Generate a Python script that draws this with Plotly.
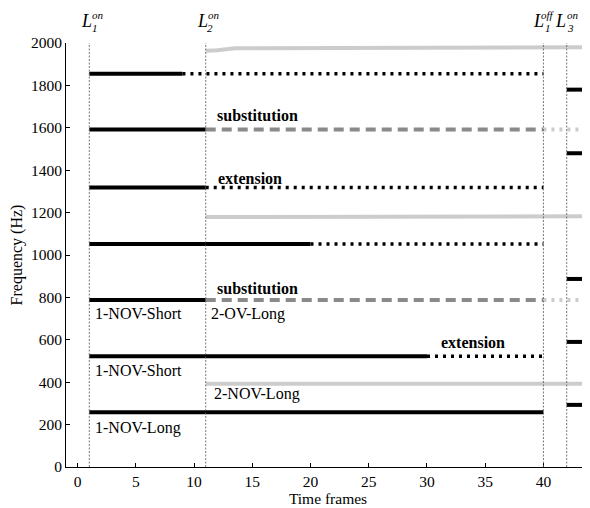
import plotly.graph_objects as go

# ---- data ----
onset_L1 = 1
onset_L2 = 11
offset_L1 = 40
onset_L3 = 42
frame_max = 44

# Layer 1 harmonics (Hz), frame where its solid part ends, and continuation type
l1_freqs = [258, 522, 788, 1052, 1318, 1592, 1855]
l1_solid_end = [40, 30, 11, 20, 11, 11, 9]
l1_cont = ["none", "ext", "sub", "ext", "ext", "sub", "ext"]

# Layer 2 non-overlapping harmonics (light grey)
l2_top_x = [11, 12, 13.5, 44]
l2_top_y = [1964, 1966, 1975, 1980]
l2_mid_x = [11, 25, 44]
l2_mid_y = [1179, 1182, 1183]
l2_low_x = [11, 44]
l2_low_y = [393, 393]

# Layer 3 harmonics (Hz)
l3_freqs = [293, 590, 887, 1480, 1780]

# Vertical markers
vline_frames = [onset_L1, onset_L2, offset_L1, onset_L3]

# Text labels
plain_labels = ["1-NOV-Short", "2-OV-Long", "1-NOV-Short", "2-NOV-Long", "1-NOV-Long"]
plain_x = [1.3, 11.3, 1.3, 11.5, 1.3]
plain_y = [722, 722, 453, 344, 184]
bold_labels = ["substitution", "extension", "substitution", "extension"]
bold_x = [11.8, 11.9, 11.8, 31.0]
bold_y = [1660, 1363, 844, 585]

x_ticks = [0, 5, 10, 15, 20, 25, 30, 35, 40]
y_ticks = [0, 200, 400, 600, 800, 1000, 1200, 1400, 1600, 1800, 2000]

# ---- styles ----
BLACK = "#000000"
MID = "#8a8a8a"
LIGHT = "#cccccc"
FONT = "Liberation Serif"

fig = go.Figure()


def seg(xs, ys, color, width=4, dash="solid"):
    fig.add_trace(go.Scatter(x=xs, y=ys, mode="lines", showlegend=False,
                             hoverinfo="skip",
                             line=dict(color=color, width=width, dash=dash)))


# layer 2 light grey lines
seg(l2_top_x, l2_top_y, LIGHT, 4)
seg(l2_mid_x, l2_mid_y, LIGHT, 4)
seg(l2_low_x, l2_low_y, LIGHT, 4)

# layer 1
for f, e, c in zip(l1_freqs, l1_solid_end, l1_cont):
    seg([onset_L1, e], [f, f], BLACK, 4)
    if c == "ext":
        seg([e, offset_L1], [f, f], BLACK, 3.5, "3px,5px")
    elif c == "sub":
        seg([e, offset_L1], [f, f], MID, 4, "10px,6px")
        seg([offset_L1, frame_max], [f, f], LIGHT, 4, "3px,5px")

# layer 3
for f in l3_freqs:
    seg([onset_L3, frame_max], [f, f], BLACK, 4)

shapes = []
for v in vline_frames:
    shapes.append(dict(type="line", xref="x", yref="y", x0=v, x1=v, y0=0, y1=2010,
                       line=dict(color="#555555", width=0.8, dash="2px,1.5px"),
                       layer="above"))

annotations = []
for t, x, y in zip(plain_labels, plain_x, plain_y):
    annotations.append(dict(text=t, x=x, y=y, xref="x", yref="y", xanchor="left",
                            yanchor="middle", showarrow=False,
                            font=dict(family=FONT, size=16, color=BLACK)))
for t, x, y in zip(bold_labels, bold_x, bold_y):
    annotations.append(dict(text="<b>" + t + "</b>", x=x, y=y, xref="x", yref="paper" if False else "y",
                            xanchor="left", yanchor="middle", showarrow=False,
                            font=dict(family=FONT, size=16, color=BLACK)))

# L labels: (frame, subscript, superscript, L centre shift, sup shift, sub shift) in px
l_marks = [
    (onset_L1, "1", "on", -2.5, 9, 5.5),
    (onset_L2, "2", "on", -3, 8, 4),
    (offset_L1, "1", "off", -5, 5, 4.5),
    (onset_L3, "3", "on", -6, 6, 3.5),
]
for fr, sub, sup, sh_l, sh_sup, sh_sub in l_marks:
    annotations.append(dict(text="<i>L</i>", x=fr, y=1, xref="x", yref="paper",
                            xanchor="center", yanchor="middle", yshift=22, xshift=sh_l,
                            showarrow=False, borderpad=0,
                            font=dict(family=FONT, size=18, color=BLACK)))
    annotations.append(dict(text="<i>" + sup + "</i>", x=fr, y=1, xref="x", yref="paper",
                            xanchor="center", yanchor="middle", yshift=28, xshift=sh_sup,
                            showarrow=False, borderpad=0,
                            font=dict(family=FONT, size=11, color=BLACK)))
    annotations.append(dict(text="<i>" + sub + "</i>", x=fr, y=1, xref="x", yref="paper",
                            xanchor="center", yanchor="middle", yshift=15, xshift=sh_sub,
                            showarrow=False, borderpad=0,
                            font=dict(family=FONT, size=11, color=BLACK)))

# page body has an 8px default margin; size the figure so it ends at the window edge
fig.update_layout(
    width=582, height=500,
    margin=dict(l=58, r=0, t=35, b=41, autoexpand=False),
    paper_bgcolor="white", plot_bgcolor="white",
    font=dict(family=FONT, size=15.5, color=BLACK),
    shapes=shapes, annotations=annotations,
    xaxis=dict(range=[-1, frame_max], tickvals=x_ticks, ticks="inside", ticklen=4,
               tickcolor=BLACK, showline=True, linecolor=BLACK, linewidth=1,
               showgrid=False, zeroline=False, automargin=False,
               title=dict(text="Time frames", standoff=4,
                          font=dict(family=FONT, size=15.5, color=BLACK)),
               tickfont=dict(family=FONT, size=15.5, color=BLACK)),
    yaxis=dict(range=[0, 2000], tickvals=y_ticks, ticks="inside", ticklen=4,
               tickcolor=BLACK, showline=True, linecolor=BLACK, linewidth=1,
               showgrid=False, zeroline=False, automargin=False,
               title=dict(text="Frequency (Hz)", standoff=14,
                          font=dict(family=FONT, size=16, color=BLACK)),
               tickfont=dict(family=FONT, size=15.5, color=BLACK)),
)

fig.write_html("out.html")
